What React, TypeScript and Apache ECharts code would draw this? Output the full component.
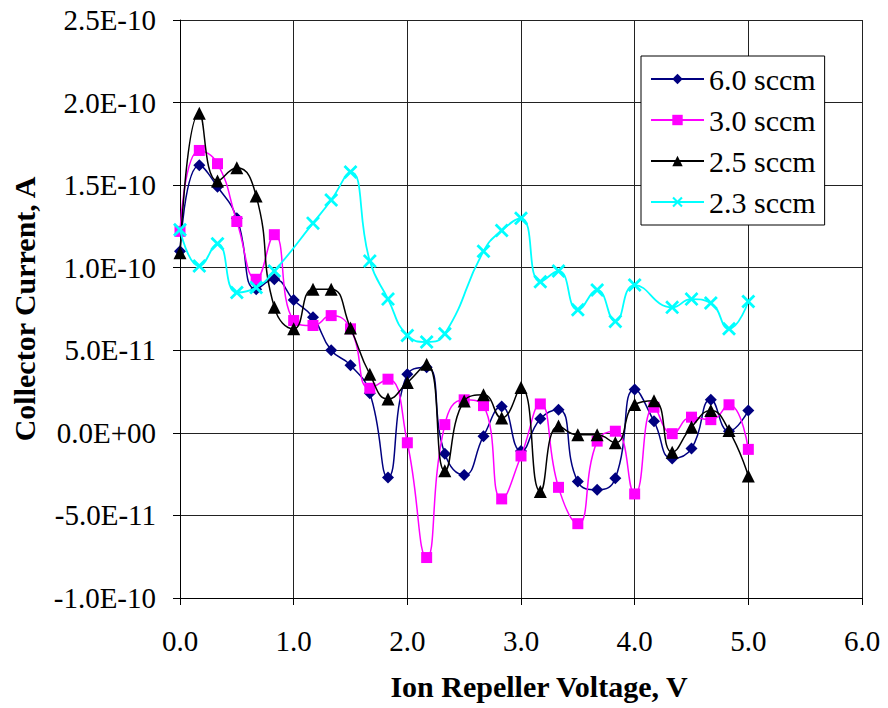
import React, { useEffect, useRef } from 'react';
import * as echarts from 'echarts';

// Ion repeller voltage, V
const VOLTAGE = [
  0.0, 0.17, 0.33, 0.5, 0.67, 0.83, 1.0, 1.17, 1.33, 1.5, 1.67,
  1.83, 2.0, 2.17, 2.33, 2.5, 2.67, 2.83, 3.0, 3.17, 3.33,
  3.5, 3.67, 3.83, 4.0, 4.17, 4.33, 4.5, 4.67, 4.83, 5.0,
];

// Collector current, in units of 1E-11 A
const SCCM_6_0 = [
  11.0, 16.2, 14.9, 13.0, 8.7, 9.3, 8.05, 7.0, 5.0, 4.1, 2.4,
  -2.7, 3.55, 3.97, -1.27, -2.55, -0.2, 1.6, -1.1, 0.85, 1.4,
  -2.95, -3.45, -2.75, 2.62, 0.7, -1.55, -0.95, 2.0, 0.1, 1.35,
];
const SCCM_3_0 = [
  12.2, 17.1, 16.3, 12.8, 9.3, 12.0, 6.8, 6.5, 7.1, 6.3, 2.7,
  3.25, -0.6, -7.55, 0.5, 2.0, 1.65, -4.0, -1.4, 1.75, -3.3,
  -5.5, -0.5, 0.1, -3.7, 1.55, -0.05, 0.95, 0.8, 1.7, -1.0,
];
const SCCM_2_5 = [
  10.9, 19.35, 15.25, 16.05, 14.35, 7.6, 6.3, 8.7, 8.7, 6.35, 3.55,
  2.05, 3.05, 4.15, -2.3, 1.93, 2.3, 0.9, 2.74, -3.55, 0.42,
  -0.12, -0.12, -0.6, 1.71, 1.95, -1.17, 0.35, 1.35, 0.14, -2.62,
];
const SCCM_2_3 = [
  12.3, 10.1, 11.45, 8.5, 8.8, 9.8, null, 12.7, 14.1, 15.8, 10.4,
  8.1, 5.9, 5.5, 6.0, null, 11.0, 12.25, 13.0, 9.15, 9.8,
  7.45, 8.65, 6.75, 8.95, null, 7.6, 8.1, 7.86, 6.3, 7.95,
];

const SERIES_NAMES = ['6.0 sccm', '3.0 sccm', '2.5 sccm', '2.3 sccm'];
const SERIES_VALUES = [SCCM_6_0, SCCM_3_0, SCCM_2_5, SCCM_2_3];

const FONT = '"Liberation Serif", "Times New Roman", serif';

// filled "x" cross marker
const CROSS =
  'path://M0,1.4 L1.4,0 L5,3.6 L8.6,0 L10,1.4 L6.4,5 L10,8.6 L8.6,10 L5,6.4 L1.4,10 L0,8.6 L3.6,5 Z';

const STYLES = [
  { color: '#000080', symbol: 'diamond', size: 12, width: 1.5 },
  { color: '#ff00ff', symbol: 'rect', size: 11, width: 1.5 },
  { color: '#000000', symbol: 'triangle', size: 13, width: 1.5 },
  { color: '#00ffff', symbol: CROSS, size: 14, width: 1.8 },
];

function formatCurrent(v: number): string {
  if (Math.abs(v) < 1e-9) return '0.0E+00';
  const [mant, exp] = (v * 1e-11).toExponential(1).split('e');
  const sign = exp[0];
  const digits = exp.slice(1).padStart(2, '0');
  return `${mant}E${sign}${digits}`;
}

export default function App() {
  const ref = useRef<HTMLDivElement>(null);

  useEffect(() => {
    if (!ref.current) return;
    const chart = echarts.init(ref.current, null, { renderer: 'svg' });

    const series = SERIES_NAMES.map((name, k) => ({
      name,
      type: 'line',
      data: VOLTAGE.map((x, i) => [x, SERIES_VALUES[k][i]]),
      smooth: 0.5,
      connectNulls: true,
      symbol: STYLES[k].symbol,
      symbolSize: STYLES[k].size,
      showAllSymbol: true,
      lineStyle: { color: STYLES[k].color, width: STYLES[k].width },
      itemStyle: { color: STYLES[k].color },
      z: 2 + k,
    }));

    chart.setOption({
      animation: false,
      backgroundColor: '#ffffff',
      grid: {
        left: 180,
        top: 20,
        right: 26,
        bottom: 110,
        containLabel: false,
        outerBoundsMode: 'none',
      },
      legend: {
        orient: 'vertical',
        left: 641,
        top: 56,
        data: SERIES_NAMES,
        itemWidth: 53,
        itemHeight: 13,
        itemGap: 11,
        padding: [8, 9, 8, 9],
        borderColor: '#000',
        borderWidth: 1,
        backgroundColor: '#fff',
        textStyle: { fontFamily: FONT, fontSize: 30, color: '#000', lineHeight: 30 },
      },
      xAxis: {
        type: 'value',
        min: 0,
        max: 6,
        interval: 1,
        name: 'Ion Repeller Voltage, V',
        nameLocation: 'middle',
        nameGap: 73,
        nameTextStyle: {
          fontFamily: FONT,
          fontSize: 30,
          fontWeight: 'bold',
          color: '#000',
          padding: [0, 0, 0, 36],
        },
        axisLine: { show: true, onZero: false, lineStyle: { color: '#000', width: 1 } },
        axisTick: { show: true, length: 7, lineStyle: { color: '#000' } },
        axisLabel: {
          fontFamily: FONT,
          fontSize: 29,
          color: '#000',
          margin: 28,
          formatter: (v: number) => v.toFixed(1),
        },
        splitLine: { show: true, lineStyle: { color: '#222', width: 1 } },
      },
      yAxis: {
        type: 'value',
        min: -10,
        max: 25,
        interval: 5,
        name: 'Collector Current, A',
        nameLocation: 'middle',
        nameGap: 141,
        nameTextStyle: { fontFamily: FONT, fontSize: 30, fontWeight: 'bold', color: '#000' },
        axisLine: { show: true, onZero: false, lineStyle: { color: '#000', width: 1 } },
        axisTick: { show: true, length: 7, lineStyle: { color: '#000' } },
        axisLabel: {
          fontFamily: FONT,
          fontSize: 29,
          color: '#000',
          margin: 24,
          formatter: formatCurrent,
        },
        splitLine: { show: true, lineStyle: { color: '#222', width: 1 } },
      },
      series,
    });

    return () => chart.dispose();
  }, []);

  return (
    <div
      ref={ref}
      style={{ position: 'fixed', left: 0, top: 0, width: 888, height: 708, background: '#fff' }}
    />
  );
}
